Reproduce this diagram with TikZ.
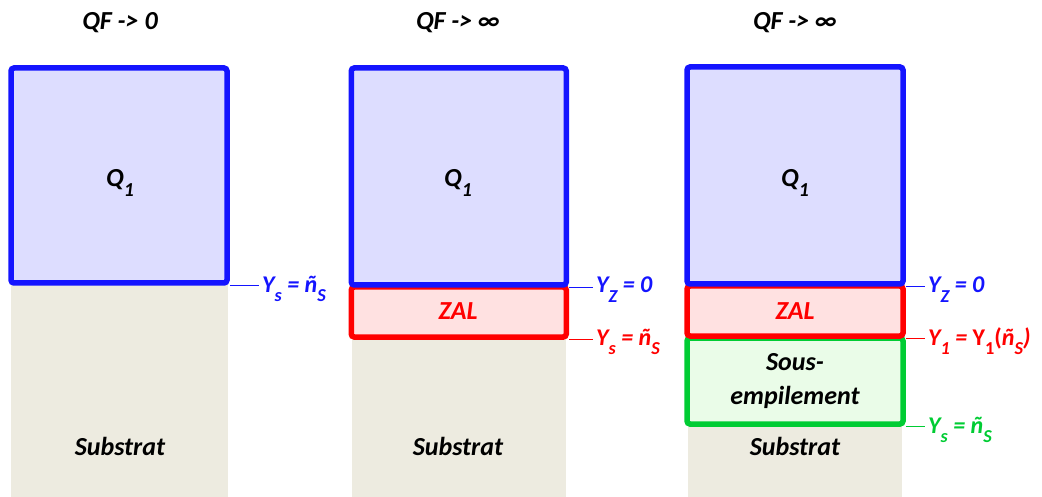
\documentclass[tikz,border=0pt]{standalone}
\usepackage{fontspec}
\usepackage{graphicx}
\setmainfont{Carlito}
\usetikzlibrary{positioning}
\definecolor{qblue}{HTML}{1414FF}
\definecolor{qfill}{HTML}{DDDDFF}
\definecolor{zred}{HTML}{FF0000}
\definecolor{zfill}{HTML}{FFE1E1}
\definecolor{sgreen}{HTML}{00CC33}
\definecolor{sfill}{HTML}{EAFCE8}
\definecolor{subfill}{HTML}{EDEBE0}
\newcommand{\dn}[1]{\raisebox{-0.4em}{\scalebox{0.76}{#1}}}

\begin{document}
\begin{tikzpicture}[x=1pt, y=-1pt,
  layer/.style={rectangle, rounded corners=3pt, line width=5.5pt, inner sep=0pt},
  qbox/.style={layer, draw=qblue, fill=qfill},
  zbox/.style={layer, draw=zred, fill=zfill},
  sbox/.style={layer, draw=sgreen, fill=sfill},
  txt/.style={font=\fontsize{26}{34}\selectfont\bfseries\itshape, align=center},
  lvl/.style={font=\fontsize{24}{26}\selectfont\bfseries\itshape, anchor=base west, inner sep=0pt},
  tick/.style={line width=1.2pt, shorten >=3pt},
]
\useasboundingbox (0,0) rectangle (1042,497);

% substrate
\fill[subfill] (11,283) rectangle (228,497);
\fill[subfill] (352,337) rectangle (566,497);
\fill[subfill] (688,424) rectangle (902,497);

% column 1
\node[qbox, minimum width=216pt, minimum height=215pt] (qa) at (119,175.5) {};
\node[txt] (ta) at (120,23) {QF -> 0};
\node[txt] (qla) at (120,183) {Q\dn{1}};
\node[txt] (sta) at (120,446) {Substrat};
\node[lvl, text=qblue] (ysa) at (262,292) {Y\dn{s} = ñ\dn{S}};
\draw[tick, qblue] (qa.south east) -- (qa.south east -| ysa.west);

% column 2
\node[zbox, minimum width=215pt, minimum height=50pt] (zb) at (458.75,312) {};
\node[qbox, minimum width=215pt, minimum height=217pt] (qb) at (458.75,176.5) {};
\node[txt] (tb) at (458,23) {QF -> ∞};
\node[txt] (qlb) at (458,183) {Q\dn{1}};
\node[txt, text=zred] (zlb) at (458,311) {ZAL};
\node[txt] (stb) at (458,446) {Substrat};
\node[lvl, text=qblue] (yzb) at (596,293) {Y\dn{Z} = 0};
\node[lvl, text=zred] (ysb) at (596,345) {Y\dn{s} = ñ\dn{S}};
\draw[tick, qblue] (qb.south east) -- (qb.south east -| yzb.west);
\draw[tick, zred] (zb.south east) -- (zb.south east -| ysb.west);

% column 3
\node[sbox, minimum width=216pt, minimum height=86pt] (sc) at (795,381) {};
\node[zbox, minimum width=216pt, minimum height=50pt] (zc) at (795,311) {};
\node[qbox, minimum width=216pt, minimum height=217pt] (qc) at (795,175.5) {};
\node[txt] (tc) at (795,23) {QF -> ∞};
\node[txt] (qlc) at (795,183) {Q\dn{1}};
\node[txt, text=zred] (zlc) at (795,311) {ZAL};
\node[txt] (slc) at (795,381) {Sous-\\empilement};
\node[txt] (stc) at (795,446) {Substrat};
\node[lvl, text=qblue] (yzc) at (928,293) {Y\dn{Z} = 0};
\node[lvl, text=zred] (y1c) at (928,345) {Y\dn{1} = {\upshape Y\dn{1}(}ñ\dn{S})};
\node[lvl, text=sgreen] (ysc) at (928,433) {Y\dn{s} = ñ\dn{S}};
\draw[tick, qblue] (qc.south east) -- (qc.south east -| yzc.west);
\draw[tick, zred] (zc.south east) -- (zc.south east -| y1c.west);
\draw[tick, sgreen] (sc.south east) -- (sc.south east -| ysc.west);
\end{tikzpicture}
\end{document}
